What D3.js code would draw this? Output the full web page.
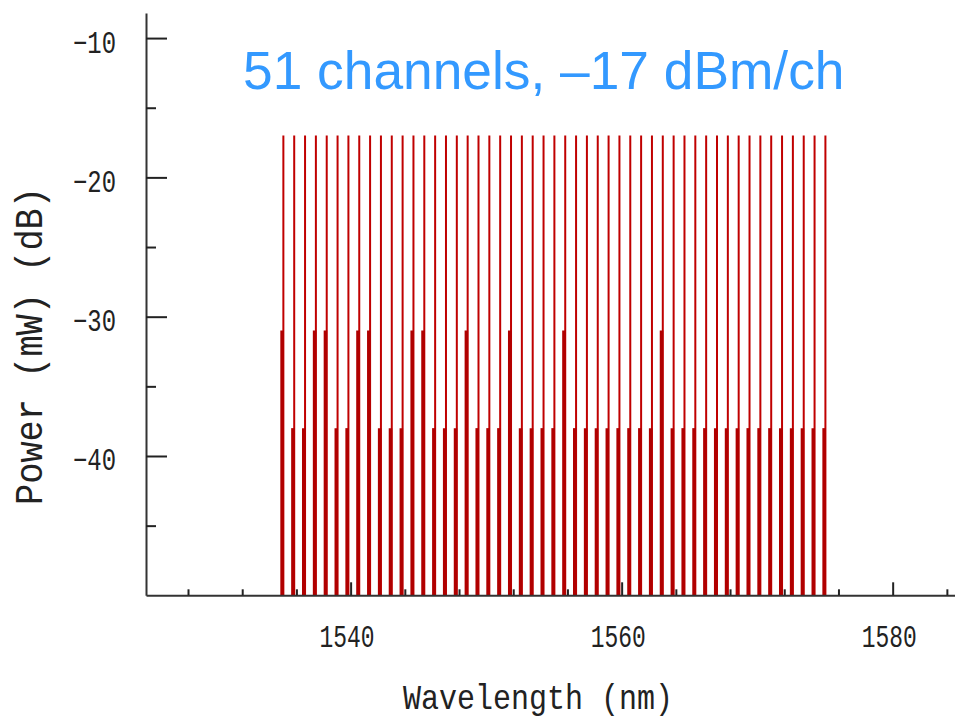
<!DOCTYPE html>
<html>
<head>
<meta charset="utf-8">
<script src="https://cdn.jsdelivr.net/npm/d3@7"></script>
<style>
  body { margin: 0; background: #fff; }
  svg { display: block; }
</style>
</head>
<body>
<svg id="chart" width="955" height="720"></svg>
<script>
// channel wavelengths (nm), 100 GHz grid
const wavelengths = [1535.0, 1535.8, 1536.6, 1537.4, 1538.2, 1539.0, 1539.8, 1540.6, 1541.4, 1542.2,
  1543.0, 1543.8, 1544.6, 1545.4, 1546.2, 1547.0, 1547.8, 1548.6, 1549.4, 1550.2,
  1551.0, 1551.8, 1552.6, 1553.4, 1554.2, 1555.0, 1555.8, 1556.6, 1557.4, 1558.2,
  1559.0, 1559.8, 1560.6, 1561.4, 1562.2, 1563.0, 1563.8, 1564.6, 1565.4, 1566.2,
  1567.0, 1567.8, 1568.6, 1569.4, 1570.2, 1571.0, 1571.8, 1572.6, 1573.4, 1574.2, 1575.0];

// peak power per channel (dB)
const peakPower = [-17, -17, -17, -17, -17, -17, -17, -17, -17, -17,
  -17, -17, -17, -17, -17, -17, -17, -17, -17, -17,
  -17, -17, -17, -17, -17, -17, -17, -17, -17, -17,
  -17, -17, -17, -17, -17, -17, -17, -17, -17, -17,
  -17, -17, -17, -17, -17, -17, -17, -17, -17, -17, -17];

// lower (wide) part of each line (dB)
const basePower = [-31, -38, -38, -31, -31, -38, -38, -31, -31, -38,
  -38, -38, -31, -31, -38, -38, -38, -31, -38, -38,
  -38, -31, -38, -38, -38, -38, -31, -38, -38, -38,
  -38, -38, -38, -38, -38, -31, -38, -38, -38, -38,
  -38, -38, -38, -38, -38, -38, -38, -38, -38, -38, -38];

const xMajorTicks = [1540, 1560, 1580];
const xMinorTicks = [1528, 1532, 1536, 1544, 1548, 1552, 1556, 1564, 1568, 1572, 1576, 1584];
const yMajorTicks = [-10, -20, -30, -40];
const yMinorTicks = [-15, -25, -35, -45];

const titleText = "51 channels, \u201317 dBm/ch";
const xLabel = "Wavelength (nm)";
const yLabel = "Power (mW) (dB)";

const svg = d3.select("#chart");
const monoFont = "'Liberation Mono', 'DejaVu Sans Mono', monospace";

const x = d3.scaleLinear().domain([1524.9, 1584.6]).range([146, 955]);
const y = d3.scaleLinear().domain([-50, -8.2]).range([595.3, 13]);

// spectral lines
const data = wavelengths.map((w, i) => ({ w: w, peak: peakPower[i], base: basePower[i] }));

const lines = svg.append("g");
lines.selectAll("line.thin")
    .data(data)
  .enter().append("line")
    .attr("class", "thin")
    .attr("x1", d => x(d.w) + 0.5)
    .attr("x2", d => x(d.w) + 0.5)
    .attr("y1", y(-50))
    .attr("y2", d => y(d.peak))
    .attr("stroke", "#c00000")
    .attr("stroke-width", 2);

lines.selectAll("line.thick")
    .data(data)
  .enter().append("line")
    .attr("class", "thick")
    .attr("x1", d => x(d.w) - 0.8)
    .attr("x2", d => x(d.w) - 0.8)
    .attr("y1", y(-50))
    .attr("y2", d => y(d.base))
    .attr("stroke", "#b00000")
    .attr("stroke-width", 3.5);

// x axis
const xAxis = svg.append("g")
    .attr("transform", "translate(0," + y(-50) + ")")
    .call(d3.axisBottom(x).tickValues(xMajorTicks).tickSize(-13).tickSizeOuter(0)
      .tickFormat(d3.format("d")));
xAxis.selectAll("text")
    .attr("dy", null)
    .attr("y", 52)
    .attr("x", -4)
    .attr("font-family", monoFont)
    .attr("font-size", 31)
    .attr("fill", "#222")
    .attr("textLength", 55)
    .attr("lengthAdjust", "spacingAndGlyphs");

svg.append("g")
    .attr("transform", "translate(0," + y(-50) + ")")
    .call(d3.axisBottom(x).tickValues(xMinorTicks).tickSize(-6).tickSizeOuter(0).tickFormat(""))
    .call(g => g.select(".domain").remove());

// y axis
const yAxis = svg.append("g")
    .attr("transform", "translate(" + x.range()[0] + ",0)")
    .call(d3.axisLeft(y).tickValues(yMajorTicks).tickSize(-21).tickSizeOuter(0).tickPadding(30));
yAxis.selectAll("text")
    .attr("dy", null)
    .attr("y", 14)
    .attr("font-family", monoFont)
    .attr("font-size", 31)
    .attr("fill", "#222")
    .attr("textLength", 43)
    .attr("lengthAdjust", "spacingAndGlyphs");

svg.append("g")
    .attr("transform", "translate(" + x.range()[0] + ",0)")
    .call(d3.axisLeft(y).tickValues(yMinorTicks).tickSize(-10).tickSizeOuter(0).tickFormat(""))
    .call(g => g.select(".domain").remove());

svg.selectAll(".domain").attr("stroke", "#333").attr("stroke-width", 2);
svg.selectAll(".tick line").attr("stroke", "#222").attr("stroke-width", 2);

// axis titles
svg.append("text")
    .attr("x", 538)
    .attr("y", 709)
    .attr("text-anchor", "middle")
    .attr("font-family", monoFont)
    .attr("font-size", 35)
    .attr("fill", "#222")
    .attr("textLength", 270)
    .attr("lengthAdjust", "spacingAndGlyphs")
    .text(xLabel);

svg.append("text")
    .attr("transform", "translate(42,346) rotate(-90)")
    .attr("text-anchor", "middle")
    .attr("font-family", monoFont)
    .attr("font-size", 38)
    .attr("fill", "#222")
    .attr("textLength", 318)
    .attr("lengthAdjust", "spacingAndGlyphs")
    .text(yLabel);

// title
svg.append("text")
    .attr("x", 243)
    .attr("y", 89)
    .attr("font-family", "'Liberation Sans', Arial, sans-serif")
    .attr("font-size", 53.3)
    .attr("fill", "#3399ff")
    .text(titleText);
</script>
</body>
</html>
